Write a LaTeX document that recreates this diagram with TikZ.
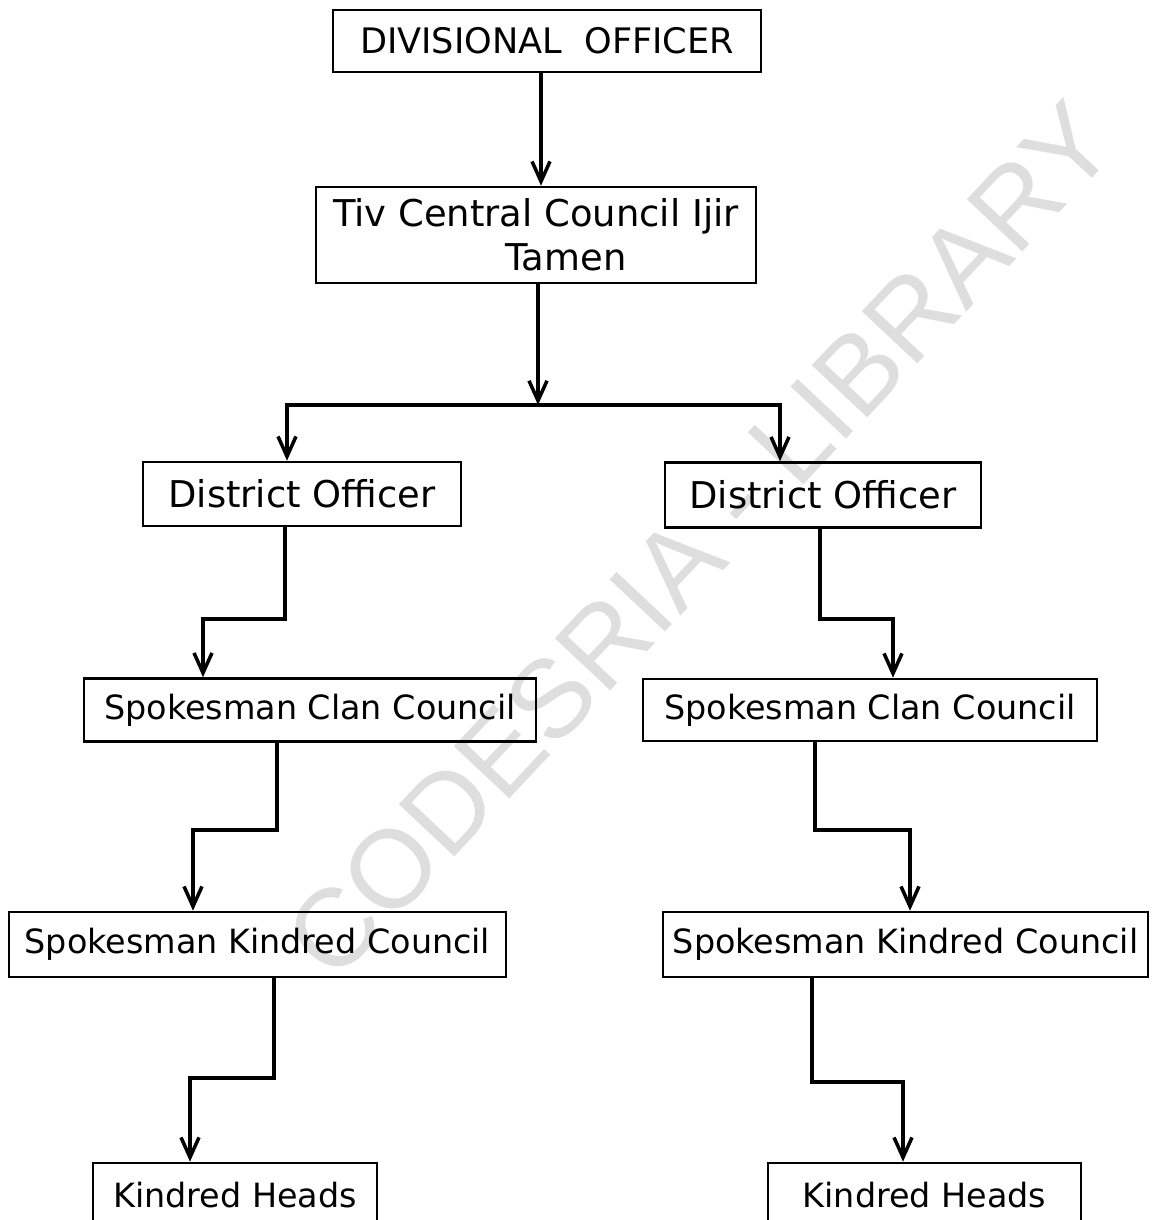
\documentclass[tikz,border=0pt]{standalone}
\usepackage{fontspec}
\setmainfont{DejaVu Sans}
\newfontfamily\markfont{Liberation Sans}
\usetikzlibrary{arrows.meta}

\begin{document}
\begin{tikzpicture}[x=0.02cm,y=-0.02cm,
    box/.style={draw,line width=1.5pt,inner sep=0pt,font=\fontsize{19}{22}\selectfont},
    bigtext/.style={font=\fontsize{21}{25}\selectfont},
    arr/.style={line width=2pt,-{Straight Barb[length=4mm,width=3.6mm]}}]
    \path[use as bounding box,clip] (0,0) rectangle (1152,1220);
    % watermark
    \node[rotate=46.8,text=black!13,font=\markfont\fontsize{63}{63}\selectfont]
        (mark) at (700,540) {CODESRIA - LIBRARY};
    % boxes
    \node[box,minimum width=8.56cm,minimum height=1.24cm,font=\fontsize{20}{24}\selectfont]
        (divoff) at (547,41) {DIVISIONAL\ \ OFFICER};
    \node[box,bigtext,minimum width=8.8cm,minimum height=1.92cm,align=center]
        (tivcc) at (536,235) {Tiv Central Council Ijir\\\hspace*{1.2cm}Tamen};
    \node[box,bigtext,minimum width=6.36cm,minimum height=1.28cm] (dist1) at (302,494) {District Officer};
    \node[box,bigtext,minimum width=6.32cm,minimum height=1.3cm] (dist2) at (823,495) {District Officer};
    \node[box,minimum width=9.04cm,minimum height=1.26cm] (clan1) at (310,710) {Spokesman Clan Council};
    \node[box,minimum width=9.08cm,minimum height=1.24cm] (clan2) at (870,710) {Spokesman Clan Council};
    \node[box,minimum width=9.94cm,minimum height=1.3cm] (kin1) at (257.5,944.5) {Spokesman Kindred Council};
    \node[box,minimum width=9.7cm,minimum height=1.3cm] (kin2) at (905.5,944.5) {Spokesman Kindred Council};
    \node[box,minimum width=5.68cm,minimum height=1.28cm] (heads1) at (235,1195) {Kindred Heads};
    \node[box,minimum width=6.26cm,minimum height=1.28cm] (heads2) at (924.5,1195) {Kindred Heads};
    % connectors
    \coordinate (split) at (538,405);
    \draw[arr] (541,0 |- divoff.south) -- (541,0 |- tivcc.north);
    \draw[arr] (538,0 |- tivcc.south) -- (split);
    \draw[arr] (split) -| (287,0 |- dist1.north);
    \draw[arr] (split) -| (780,0 |- dist2.north);
    \draw[arr] (285,0 |- dist1.south) |- (203,619) -- (203,0 |- clan1.north);
    \draw[arr] (820,0 |- dist2.south) |- (893,619) -- (893,0 |- clan2.north);
    \draw[arr] (277,0 |- clan1.south) |- (193,830) -- (193,0 |- kin1.north);
    \draw[arr] (815,0 |- clan2.south) |- (910,830) -- (910,0 |- kin2.north);
    \draw[arr] (274,0 |- kin1.south) |- (190,1078) -- (190,0 |- heads1.north);
    \draw[arr] (812,0 |- kin2.south) |- (903,1082) -- (903,0 |- heads2.north);
\end{tikzpicture}
\end{document}
